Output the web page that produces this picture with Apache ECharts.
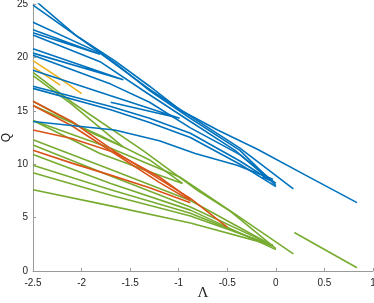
<!DOCTYPE html>
<html><head><meta charset="utf-8">
<script src="https://cdn.jsdelivr.net/npm/echarts@6/dist/echarts.min.js"></script>
<style>html,body{margin:0;padding:0;background:#fff}#c{width:374px;height:303px}</style>
</head><body><div id="c"></div>
<script>
// tick labels
const xTicks = [-2.5, -2, -1.5, -1, -0.5, 0, 0.5, 1];
const yTicks = [0, 5, 10, 15, 20, 25];

// blue branches [Λ, Q]
const blue1 = [[-2.45,25.1],[-2.05,22.0],[-1.66,19.7],[-1.3,17.3],[-0.99,15.1],[-0.6,13.2],[-0.19,11.4],[0.3,9.0],[0.835,6.4]];
const blue2 = [[-2.5,24.9],[-1.66,19.5],[-1.3,16.9],[-0.88,14.3],[-0.37,11.3],[0.0,8.0]];
const blue3 = [[-2.5,23.3],[-1.81,20.4],[-1.3,17.0],[-0.88,14.5],[-0.37,11.5],[0.18,7.7]];
const blue4 = [[-2.5,22.6],[-1.81,20.3],[-2.5,22.3]];
const blue5 = [[-2.5,22.1],[-1.81,19.6],[-1.3,16.5],[-0.88,14.0],[-0.42,11.3],[-0.06,8.5],[-0.14,8.8]];
const blue6 = [[-2.5,20.8],[-1.57,17.9],[-2.5,20.4]];
const blue7 = [[-2.5,20.2],[-1.7,17.5],[-1.3,15.8],[-0.88,13.4],[-0.37,10.9],[0.0,8.2]];
const blue8 = [[-2.5,18.8],[-1.7,16.4],[-0.99,14.3],[-1.7,15.8]];
const blue9 = [[-2.5,17.3],[-1.7,15.4],[-1.3,14.3],[-0.88,12.9],[-0.37,10.3],[-0.06,8.5]];
const blue10 = [[-2.5,17.1],[-1.7,15.1],[-1.3,13.9],[-0.88,12.5],[-0.37,10.0],[0.0,7.9]];
const blue11 = [[-2.5,14.0],[-1.66,13.2],[-1.2,12.2],[-0.83,11.0],[-0.4,9.9],[-0.03,8.6]];

// red branches
const red1 = [[-2.5,15.9],[-2.1,14.0],[-1.66,11.2],[-1.2,8.6],[-0.88,6.8],[-0.5,4.1]];
const red2 = [[-2.5,15.5],[-2.1,13.6],[-1.66,11.0],[-1.2,8.3],[-0.88,6.6]];
const red3 = [[-2.5,13.2],[-2.1,12.4],[-1.66,11.1],[-1.2,8.8],[-0.88,6.7]];
const red4 = [[-2.5,11.3],[-2.1,10.1],[-1.71,9.0],[-1.3,7.8],[-0.88,6.4]];

// yellow branches
const yellow1 = [[-2.5,19.7],[-2.25,18.2],[-2.0,16.6]];
const yellow2 = [[-2.5,19.1],[-2.35,18.2],[-2.22,17.4]];

// green branches
const green1 = [[-2.5,18.6],[-2.1,15.8],[-1.37,11.3],[-0.8,7.5],[-0.47,5.6],[0.0,2.1]];
const green2 = [[-2.5,18.3],[-2.1,15.6],[-1.57,11.6],[-1.91,13.0],[-2.5,15.9]];
const green3 = [[-2.5,15.5],[-1.81,12.7],[-1.3,10.4],[-0.96,8.2],[-1.3,9.3],[-1.81,11.0],[-2.5,14.1]];
const green4 = [[-2.5,12.3],[-1.7,9.5],[-0.88,6.6],[-0.06,2.5]];
const green5 = [[-2.5,11.8],[-1.7,8.9],[-0.88,6.0],[-0.03,2.4]];
const green6 = [[-2.5,10.9],[-1.7,8.2],[-0.88,5.7],[0.0,2.0]];
const green7 = [[-2.5,9.9],[-1.7,7.6],[-0.88,5.4],[-0.03,2.3]];
const green8 = [[-2.5,9.2],[-1.7,7.1],[-0.88,5.15],[-0.06,2.5]];
const green9 = [[-2.5,7.6],[-1.7,6.1],[-0.88,4.5],[-0.03,2.4]];
const green10 = [[-2.5,14.1],[-1.7,11.5],[-0.99,8.8],[-0.4,5.2],[0.18,1.6]];
const green11 = [[0.19,3.6],[0.835,0.3]];

const C = {blue:'#0072BD', red:'#D95319', yellow:'#EDB120', green:'#77AC30'};
const groups = [
  ['green', [green1,green2,green3,green4,green5,green6,green7,green8,green9,green10,green11]],
  ['red', [red1,red2,red3,red4]],
  ['yellow', [yellow1,yellow2]],
  ['blue', [blue1,blue2,blue3,blue4,blue5,blue6,blue7,blue8,blue9,blue10,blue11]]
];
const series = [];
groups.forEach(([c, arr]) => arr.forEach(d => series.push({
  type:'line', data:d, showSymbol:false, smooth:false, silent:true,
  lineStyle:{color:C[c], width:1.6}, itemStyle:{color:C[c]}
})));

const chart = echarts.init(document.getElementById('c'), null, {renderer:'canvas'});
const axisCol = '#9a9a9a';
chart.setOption({
  animation:false,
  grid:{left:33, right:1, top:4, bottom:32, containLabel:false, outerBoundsMode:'none'},
  xAxis:{type:'value', min:xTicks[0], max:xTicks[xTicks.length-1], interval:0.5,
    name:'Λ', nameLocation:'middle', nameGap:15, nameMoveOverlap:false,
    nameTextStyle:{fontFamily:'Liberation Serif', fontSize:15, color:'#262626'},
    axisLine:{show:true, onZero:false, lineStyle:{color:axisCol, width:1}},
    axisTick:{show:true, inside:true, length:3, lineStyle:{color:axisCol}},
    axisLabel:{fontFamily:'Liberation Sans', fontSize:10, color:'#262626', margin:7},
    splitLine:{show:false}},
  yAxis:{type:'value', min:yTicks[0], max:yTicks[yTicks.length-1], interval:5,
    name:'Q', nameLocation:'middle', nameGap:20, nameRotate:90, nameMoveOverlap:false,
    nameTextStyle:{fontFamily:'Liberation Sans', fontSize:12, color:'#262626'},
    axisLine:{show:true, onZero:false, lineStyle:{color:axisCol, width:1}},
    axisTick:{show:true, inside:true, length:3, lineStyle:{color:axisCol}},
    axisLabel:{fontFamily:'Liberation Sans', fontSize:10, color:'#262626', margin:5},
    splitLine:{show:false}},
  series: series
});
</script></body></html>
